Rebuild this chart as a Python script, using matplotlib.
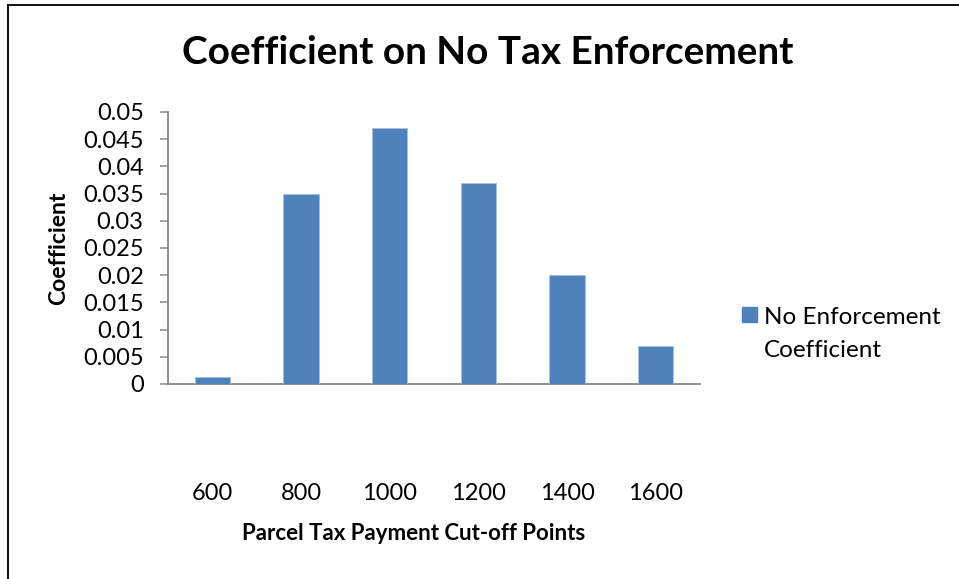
import matplotlib
matplotlib.use("Agg")
import matplotlib.pyplot as plt
from matplotlib.lines import Line2D
from matplotlib.patches import Patch, Rectangle
from matplotlib.legend_handler import HandlerPatch

categories = ["600", "800", "1000", "1200", "1400", "1600"]
values = [0.0013, 0.035, 0.047, 0.037, 0.020, 0.007]
yticks = [0, 0.005, 0.01, 0.015, 0.02, 0.025, 0.03, 0.035, 0.04, 0.045, 0.05]
ytick_labels = ["0", "0.005", "0.01", "0.015", "0.02", "0.025", "0.03", "0.035", "0.04", "0.045", "0.05"]
title = "Coefficient on No Tax Enforcement"
xlabel = "Parcel Tax Payment Cut-off Points"
ylabel = "Coefficient"
series_name = "No Enforcement\nCoefficient"

plt.rcParams['font.family'] = ['Lato', 'DejaVu Sans']
W, H = 959, 579
fig = plt.figure(figsize=(W / 100, H / 100), dpi=100)
fig.patch.set_facecolor("white")

ax = fig.add_axes([168 / W, 1 - 384 / H, 532 / W, 272 / H])
x = list(range(len(categories)))
bar_color = "#4F81BD"
ax.bar(x, values, width=0.4, color=bar_color, edgecolor="#A7BFDE", linewidth=0.6, zorder=3)
ax.set_xlim(-0.5, len(categories) - 0.5)
ax.set_ylim(0, 0.05)
ax.set_yticks(yticks)
ax.set_yticklabels(ytick_labels)
ax.set_xticks(x)
ax.set_xticklabels(categories)

axis_color = "#868686"
for s in ["top", "right"]:
    ax.spines[s].set_visible(False)
for s in ["left", "bottom"]:
    ax.spines[s].set_color(axis_color)
    ax.spines[s].set_linewidth(1.3)
ax.tick_params(axis="y", length=5.5, width=1.1, color=axis_color, pad=12, labelsize=17, labelcolor="black")
ax.tick_params(axis="x", length=0, pad=71, labelsize=17, labelcolor="black")

ax.set_ylabel(ylabel, fontsize=16.5, fontweight="bold")
ax.yaxis.set_label_coords((59 - 168) / 532, 0.5)
ax.yaxis.label.set_va("center")
ax.set_xlabel(xlabel, fontsize=16, fontweight="bold")
ax.xaxis.set_label_coords((414 - 168) / 532, (384 - 534) / 272)
ax.xaxis.label.set_va("center")

fig.text(488 / W, 1 - 53 / H, title, fontsize=27.9, fontweight="bold", ha="center", va="center")


def shifted_square(legend, orig_handle, xdescent, ydescent, width, height, fontsize):
    return Rectangle((-xdescent, -ydescent + 0.8 * fontsize), width, height)


handle = Patch(facecolor=bar_color, edgecolor=bar_color)
leg = fig.legend([handle], [series_name], loc="upper left", bbox_to_anchor=(742 / W, 1 - 307 / H),
                 frameon=False, fontsize=17.5, handlelength=0.62, handleheight=0.62, handletextpad=0.3,
                 borderpad=0, borderaxespad=0,
                 handler_map={Patch: HandlerPatch(patch_func=shifted_square)})
for t in leg.get_texts():
    t.set_linespacing(1.72)

fig.add_artist(Line2D([8 / W, 8 / W], [0, 1 - 5 / H], color="black", linewidth=1.3))
fig.add_artist(Line2D([8 / W, 1], [1 - 5 / H, 1 - 5 / H], color="black", linewidth=1.3))

fig.savefig("out.png", dpi=100)
